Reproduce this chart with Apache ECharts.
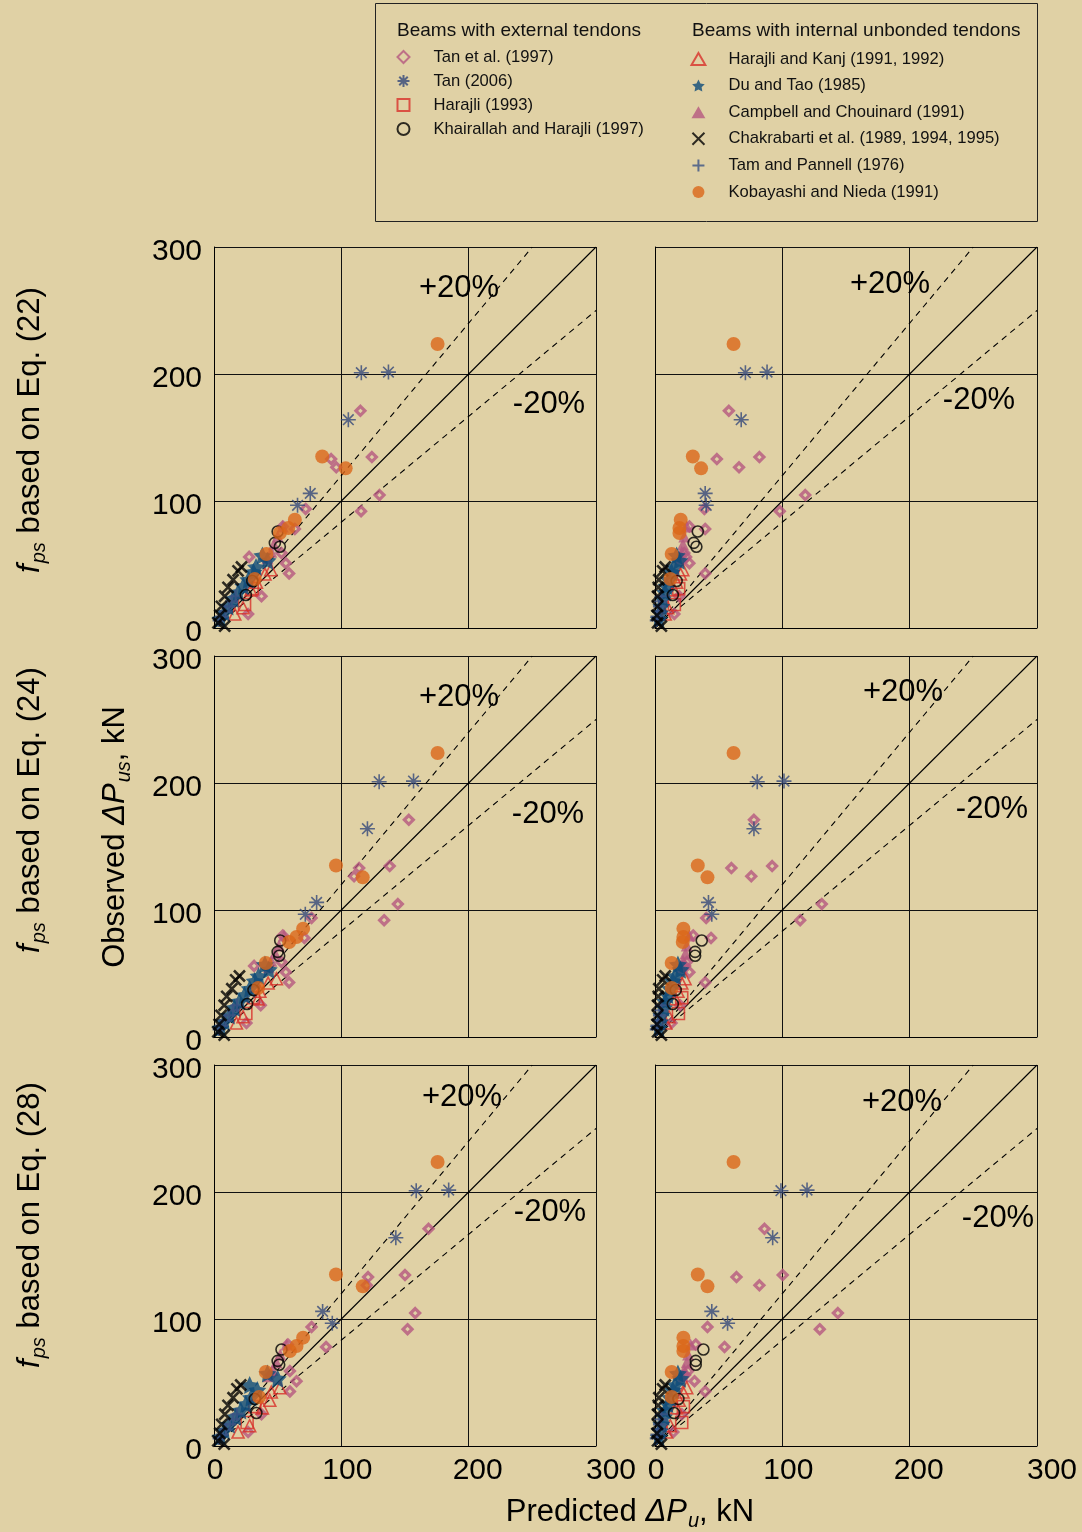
<!DOCTYPE html>
<html><head><meta charset="utf-8">
<script src="https://cdn.jsdelivr.net/npm/echarts@6/dist/echarts.min.js"></script>
<style>html,body{margin:0;padding:0;background:#e0d1a5}#c{width:1082px;height:1532px}</style>
</head><body><div id="c"></div>
<script>
// ---------- DATA ----------
// panel order: [Eq22-left, Eq22-right, Eq24-left, Eq24-right, Eq28-left, Eq28-right]
const axisTicks = [0, 100, 200, 300];
const diagLine    = [[0, 0], [300, 300]];
const plus20Line  = [[0, 0], [250, 300]];
const minus20Line = [[0, 0], [300, 250]];

const tan1997Obs = [171, 134.6, 133, 126.5, 104.7, 92, 93.7, 78, 80, 59, 56, 51, 43, 25, 11];
const tan1997Pred = [
  [115, 124, 92, 96, 130, 115.5, 72, 63.5, 54, 53, 27.6, 56.4, 59, 37.3, 26.8],
  [58, 82, 48.6, 66, 118, 98, 38.8, 39.4, 27, 23, 24.4, 27, 39.4, 19, 15.2],
  [153, 138, 114, 110, 144.4, 133.6, 76.6, 71, 54, 53, 31.5, 56.4, 59, 36.7, 25.5],
  [77.7, 92, 60, 75.6, 131, 114, 40.2, 44, 30, 25, 23.6, 27, 39.4, 19.7, 13],
  [168.5, 150, 121, 120, 158, 152, 76.6, 88, 58, 59.6, 44.6, 64.8, 59.6, 37.3, 26.8],
  [86, 100.3, 64, 82, 143.6, 129.4, 41.2, 54.6, 32, 26, 23.6, 31, 39.4, 21, 14.4]
];

const tan2006Obs = [201, 201.5, 164, 106, 96.6];
const tan2006Pred = [
  [115.7, 137, 105.5, 75.6, 65.6],
  [71, 88, 67.7, 39.4, 40.2],
  [129.7, 156.7, 120.5, 80.6, 71.7],
  [80.3, 101.3, 77.7, 42, 44.6],
  [158.8, 184.3, 142.8, 85.3, 92.9],
  [98.9, 119.4, 92.4, 44.6, 57]
];

const harajli1993Obs = [31, 18.5];
const harajli1993Pred = [
  [30, 24], [18.6, 15.2], [31, 25], [21, 18.4], [32, 26], [22.3, 21]
];

const khairallahObs = [76, 67, 64, 37, 26];
const khairallahPred = [
  [50, 47.8, 51.7, 30, 25],
  [33.6, 30.4, 32.5, 17, 14],
  [52, 50, 51.2, 31, 26],
  [36.7, 31.5, 31.5, 16.3, 14],
  [53, 50, 51.2, 32, 33.3],
  [38, 32, 32, 18.4, 15]
];

const harajliKanjObs = [45.9, 42.5, 36, 30, 16, 11];
const harajliKanjPred = [
  [44.6, 40, 33.3, 29, 22.8, 16.3],
  [21.8, 20, 17, 15, 10, 8],
  [49, 42.5, 36, 34.6, 22.8, 17.6],
  [23.6, 21, 18, 16, 11, 8.5],
  [51.7, 45, 43.8, 38, 28, 18.9],
  [24.9, 22, 19, 17, 12, 9]
];

const duTaoObs = [57, 53, 48, 44, 38, 33, 28, 23, 17, 12, 7];
const duTaoPred = [
  [38, 42, 33, 31, 27, 23, 19, 15, 11, 8, 5],
  [17, 19, 15, 13, 11, 9, 8, 6, 5, 4, 3],
  [40, 43, 35, 32, 28, 24, 20, 16, 12, 8, 5],
  [18, 20, 16, 14, 12, 10, 8, 7, 5, 4, 3],
  [42, 50, 28, 34, 29, 25, 21, 17, 12, 8, 5],
  [18, 20, 16, 14, 12, 10, 8, 7, 5, 4, 3]
];

const campbellObs = [80, 72, 66, 60, 55];
const campbellPred = [
  [54, 50, 47, 45, 42],
  [25, 23, 22, 21, 20],
  [55, 51, 48, 45, 43],
  [27, 25, 24, 22, 21],
  [57, 52, 49, 46, 43],
  [28, 26, 25, 23, 22]
];

const chakrabartiObs = [48, 45, 38, 32, 25, 17, 10, 4, 1.5];
const chakrabartiPred = [
  [21.6, 18.9, 15, 11, 8.4, 5.8, 4.5, 3.1, 8.4],
  [8, 6, 3, 2.5, 2, 2, 1.5, 2, 5],
  [20, 17, 14, 10, 8, 5.5, 4, 3, 8],
  [8, 6, 3, 2.5, 2, 2, 1.5, 2, 5],
  [21, 18, 15, 11, 8.5, 6, 4.5, 3, 8],
  [8, 6, 3, 2.5, 2, 2, 1.5, 2, 5]
];

const tamObs = [25, 21, 17, 13, 9, 6];
const tamPred = [
  [17, 14, 12, 9, 6, 4],
  [5, 4, 3.5, 3, 1.5, 1],
  [18, 15, 12, 9, 6, 4],
  [5, 4.5, 3.5, 3, 1.5, 1],
  [18, 15, 12.5, 9.5, 6.5, 4],
  [5, 4.5, 3.5, 3, 1.5, 1]
];

const kobayashiObs = [223.6, 135, 125.7, 85.3, 78.7, 74.8, 58.3, 38.6];
const kobayashiPred = [
  [175.6, 85, 103.4, 63.5, 58.3, 51.7, 41.2, 32],
  [61.7, 29.7, 36.2, 20.2, 19.2, 19.2, 13.1, 12.1],
  [175.6, 95.8, 116.8, 70, 64.8, 59, 40.7, 34.6],
  [61.7, 33.6, 41.2, 22.3, 22.3, 21.8, 13.1, 13.1],
  [175.6, 95.8, 116.8, 70, 64.8, 59.6, 40.7, 35.4],
  [61.7, 33.6, 41.2, 22.3, 22.3, 22.3, 13.1, 13.1]
];

const externalNames = ['Tan et al. (1997)', 'Tan (2006)', 'Harajli (1993)', 'Khairallah and Harajli (1997)'];
const internalNames = ['Harajli and Kanj (1991, 1992)', 'Du and Tao (1985)', 'Campbell and Chouinard (1991)',
  'Chakrabarti et al. (1989, 1994, 1995)', 'Tam and Pannell (1976)', 'Kobayashi and Nieda (1991)'];
const rowTitles = ['(22)', '(24)', '(28)'];

// ---------- STYLE / LAYOUT ----------
const FONT = '"Liberation Sans", Arial, Helvetica, sans-serif';
const STAR = 'path://M0,-10 L2.94,-4.05 L9.51,-3.09 L4.76,1.55 L5.88,8.09 L0,5 L-5.88,8.09 L-4.76,1.55 L-9.51,-3.09 L-2.94,-4.05 Z';
const ASTER = 'path://M0,-10 L0,10 M-10,0 L10,0 M-7.07,-7.07 L7.07,7.07 M-7.07,7.07 L7.07,-7.07';
const XMARK = 'path://M-10,-10 L10,10 M-10,10 L10,-10';
const PLUS = 'path://M0,-10 L0,10 M-10,0 L10,0';
const DIAM = 'path://M0,-10 L10,0 L0,10 L-10,0 Z';
const SQR = 'path://M-10,-10 L10,-10 L10,10 L-10,10 Z';
const TRI = 'path://M0,-10 L10,7.3 L-10,7.3 Z';

const groups = [
  {name: externalNames[0], obs: tan1997Obs, pred: tan1997Pred, symbol: DIAM, size: 9,
   style: {color: 'none', borderColor: '#b5577f', borderWidth: 3.2}},
  {name: internalNames[2], obs: campbellObs, pred: campbellPred, symbol: TRI, size: 12,
   style: {color: '#b5577f'}},
  {name: externalNames[2], obs: harajli1993Obs, pred: harajli1993Pred, symbol: SQR, size: 12,
   style: {color: 'none', borderColor: '#d8312a', borderWidth: 1.6}},
  {name: internalNames[0], obs: harajliKanjObs, pred: harajliKanjPred, symbol: TRI, size: 12,
   style: {color: 'none', borderColor: '#d8312a', borderWidth: 1.6}},
  {name: internalNames[1], obs: duTaoObs, pred: duTaoPred, symbol: STAR, size: 18,
   style: {color: '#0e4b79'}},
  {name: internalNames[4], obs: tamObs, pred: tamPred, symbol: PLUS, size: 13,
   style: {color: 'none', borderColor: '#3b5385', borderWidth: 2.2}},
  {name: externalNames[3], obs: khairallahObs, pred: khairallahPred, symbol: 'circle', size: 11,
   style: {color: 'none', borderColor: '#000', borderWidth: 1.6}},
  {name: internalNames[3], obs: chakrabartiObs, pred: chakrabartiPred, symbol: XMARK, size: 11,
   style: {color: 'none', borderColor: '#000', borderWidth: 2.6}},
  {name: externalNames[1], obs: tan2006Obs, pred: tan2006Pred, symbol: ASTER, size: 15,
   style: {color: 'none', borderColor: '#34497a', borderWidth: 1.6}},
  {name: internalNames[5], obs: kobayashiObs, pred: kobayashiPred, symbol: 'circle', size: 14,
   style: {color: '#db6719'}}
];

const lefts = [214, 655];
const tops = [247, 656, 1065];
const W = 382, H = 381;

const grids = [], xAxes = [], yAxes = [], series = [];
const xLabelRich = {
  p0:   {fontSize: 30, fontFamily: FONT, color: '#000', padding: [0, 0, 0, 2]},
  p100: {fontSize: 30, fontFamily: FONT, color: '#000', padding: [0, 0, 0, 12]},
  p200: {fontSize: 30, fontFamily: FONT, color: '#000', padding: [0, 0, 0, 18]},
  p300: {fontSize: 30, fontFamily: FONT, color: '#000', padding: [0, 0, 0, 30]}
};
const yLabelRich = {
  y: {fontSize: 30, lineHeight: 30, fontFamily: FONT, color: '#000', padding: [5, 0, 0, 0], verticalAlign: 'top'}
};
for (let p = 0; p < 6; p++) {
  const r = Math.floor(p / 2), c = p % 2;
  grids.push({left: lefts[c], top: tops[r], width: W, height: H, outerBoundsMode: 'none', containLabel: false});
  const common = {
    type: 'value', min: axisTicks[0], max: axisTicks[axisTicks.length - 1], interval: 100,
    gridIndex: p,
    axisLine: {show: true, onZero: false, lineStyle: {color: '#000', width: 1}},
    axisTick: {show: false},
    splitLine: {show: true, showMinLine: true, showMaxLine: true, lineStyle: {color: '#111', width: 1}}
  };
  xAxes.push(Object.assign({}, common, {
    axisLabel: {show: r === 2, margin: 10, showMinLabel: true, showMaxLabel: true, hideOverlap: false,
      formatter: v => '{p' + v + '|' + v + '}', rich: xLabelRich,
      fontSize: 30, fontFamily: FONT, color: '#000'}
  }));
  yAxes.push(Object.assign({}, common, {
    axisLabel: {show: c === 0, margin: 12, showMinLabel: true, showMaxLabel: true, hideOverlap: false,
      formatter: v => '{y|' + v + '}', rich: yLabelRich,
      fontSize: 30, fontFamily: FONT, color: '#000'}
  }));
  // reference lines
  series.push({type: 'line', xAxisIndex: p, yAxisIndex: p, data: diagLine, symbol: 'none', silent: true,
    lineStyle: {color: '#000', width: 1.1}, z: 1});
  series.push({type: 'line', xAxisIndex: p, yAxisIndex: p, data: plus20Line, symbol: 'none', silent: true,
    lineStyle: {color: '#000', width: 1.1, type: [6, 5]}, z: 1});
  series.push({type: 'line', xAxisIndex: p, yAxisIndex: p, data: minus20Line, symbol: 'none', silent: true,
    lineStyle: {color: '#000', width: 1.1, type: [6, 5]}, z: 1});
  groups.forEach((g, gi) => {
    series.push({
      type: 'scatter', name: g.name, xAxisIndex: p, yAxisIndex: p,
      symbol: g.symbol, symbolSize: g.size, itemStyle: g.style, z: 2 + gi * 0.01,
      data: g.pred[p].map((x, i) => [x, g.obs[i]])
    });
  });
}

// +/-20% labels (screen centres)
const pctLabelPos = [
  [[459, 287], [549, 403]], [[890, 283], [979, 399]],
  [[459, 696], [548, 813]], [[903, 691], [992, 808]],
  [[462, 1096], [550, 1211]], [[902, 1101], [998, 1217]]
];

const graphics = [];
graphics.push({type: 'rect', shape: {x: 375.5, y: 3.5, width: 662, height: 218},
  style: {fill: 'none', stroke: '#222', lineWidth: 1}, silent: true});
graphics.push({type: 'text', x: 397, y: 31, style: {text: 'Beams with external tendons', fontSize: 19,
  fontFamily: FONT, fill: '#111', verticalAlign: 'middle'}});
graphics.push({type: 'text', x: 692, y: 31, style: {text: 'Beams with internal unbonded tendons', fontSize: 19,
  fontFamily: FONT, fill: '#111', verticalAlign: 'middle'}});
pctLabelPos.forEach(pair => {
  graphics.push({type: 'text', x: pair[0][0], y: pair[0][1] + 1, style: {text: '+20%', fontSize: 31, fontFamily: FONT,
    fill: '#000', align: 'center', verticalAlign: 'middle'}, z: 50});
  graphics.push({type: 'text', x: pair[1][0], y: pair[1][1] + 1, style: {text: '-20%', fontSize: 31, fontFamily: FONT,
    fill: '#000', align: 'center', verticalAlign: 'middle'}, z: 50});
});
const richBase = {
  n: {fontSize: 31, lineHeight: 31, fontFamily: FONT, fill: '#000', verticalAlign: 'top'},
  i: {fontSize: 31, lineHeight: 31, fontFamily: FONT, fontStyle: 'italic', fill: '#000', verticalAlign: 'top'},
  sub: {fontSize: 20, lineHeight: 20, fontFamily: FONT, fontStyle: 'italic', fill: '#000', verticalAlign: 'top', padding: [15, 0, 0, 1]}
};
const rowTitleY = [430, 810, 1225];
rowTitles.forEach((t, r) => {
  graphics.push({type: 'text', x: 30, y: rowTitleY[r], rotation: Math.PI / 2,
    style: {text: '{i|f}{sub|ps}{n| based on Eq. ' + t + '}', rich: richBase, align: 'center', verticalAlign: 'middle'}});
});
graphics.push({type: 'text', x: 115, y: 837, rotation: Math.PI / 2,
  style: {text: '{n|Observed }{i|ΔP}{sub|us}{n|, kN}', rich: richBase, align: 'center', verticalAlign: 'middle'}});
graphics.push({type: 'text', x: 630, y: 1512,
  style: {text: '{n|Predicted }{i|ΔP}{sub|u}{n|, kN}', rich: richBase, align: 'center', verticalAlign: 'middle'}});

const legendText = {fontSize: 16.6, lineHeight: 20, fontFamily: FONT, color: '#111'};
const option = {
  backgroundColor: '#e0d1a5',
  animation: false,
  grid: grids, xAxis: xAxes, yAxis: yAxes, series: series,
  legend: [
    {data: externalNames, orient: 'vertical', left: 395, top: 47, padding: 0, itemWidth: 50, itemHeight: 12,
     itemGap: 4, selectedMode: false, textStyle: legendText},
    {data: internalNames, orient: 'vertical', left: 689, top: 49, padding: 0, itemWidth: 50, itemHeight: 12,
     itemGap: 6.6, selectedMode: false, textStyle: legendText}
  ],
  graphic: graphics
};
const chart = echarts.init(document.getElementById('c'), null, {renderer: 'canvas'});
chart.setOption(option);
</script></body></html>
